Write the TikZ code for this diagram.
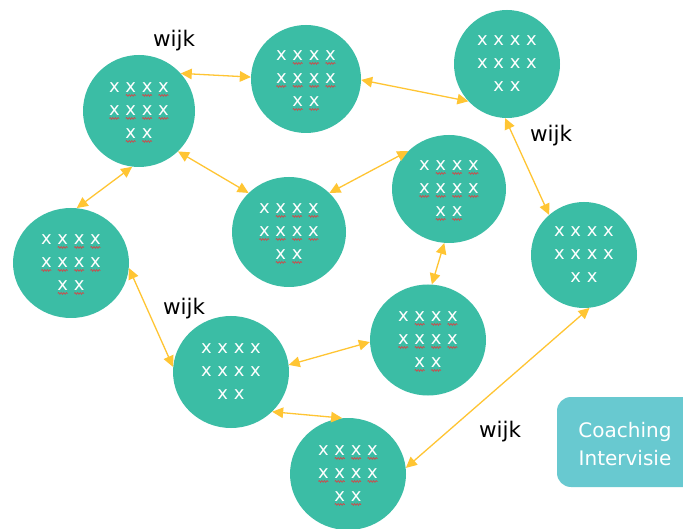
\documentclass[tikz,border=0pt]{standalone}
\usepackage{fontspec}
\setmainfont{DejaVu Sans}
\usetikzlibrary{arrows.meta,shapes.geometric,decorations.pathmorphing}
\definecolor{blob}{RGB}{59,189,165}
\definecolor{coach}{RGB}{104,201,208}
\definecolor{linkc}{RGB}{255,197,51}
\definecolor{squigred}{RGB}{205,75,75}
\begin{document}
\begin{tikzpicture}[x=1pt,y=-1pt,
  blobnode/.style={ellipse, fill=blob, draw=none, inner sep=0pt},
  xtext/.style={text=white, align=center, inner sep=0pt, font=\fontsize{18}{23}\selectfont},
  wijklabel/.style={text=black, inner sep=0pt, anchor=base, font=\fontsize{21.5}{25}\selectfont},
  coachtext/.style={text=white, inner sep=0pt, anchor=base, font=\fontsize{20}{24}\selectfont},
  linkarrow/.style={draw=linkc, line width=1.3pt, {Triangle[length=11pt,width=10.5pt]}-{Triangle[length=11pt,width=10.5pt]}},
  squig/.style={draw=squigred, line width=0.7pt, decorate, decoration={snake, amplitude=0.9pt, segment length=2.6pt}},
  sq/.pic={
    \foreach \dx/\dy in {-8.2/-15.6, 8.2/-15.6, 24.6/-15.6, -24.6/7.4, -8.2/7.4, 8.2/7.4, 24.6/7.4, -8.2/30.4, 8.2/30.4}
      \draw[squig] (\dx-5,\dy) -- (\dx+5,\dy);
  }]
\useasboundingbox (0,0) rectangle (683,529);
\fill[white] (0,0) rectangle (683,529);

% coaching box
\begin{scope}
  \clip (0,0) rectangle (683,529);
  \fill[coach, rounded corners=14pt] (557,397) rectangle (715,487);
\end{scope}
\node[coachtext] (co1) at (625,437) {Coaching};
\node[coachtext] (co2) at (625,465) {Intervisie};

% circles
\node[blobnode, minimum width=112pt, minimum height=112pt] (c1) at (139,111) {};
\node[blobnode, minimum width=110pt, minimum height=108pt] (c2) at (306,79) {};
\node[blobnode, minimum width=106pt, minimum height=108pt] (c3) at (507,64) {};
\node[blobnode, minimum width=116pt, minimum height=110pt] (c4) at (71,263) {};
\node[blobnode, minimum width=114pt, minimum height=110pt] (c5) at (289,232) {};
\node[blobnode, minimum width=114pt, minimum height=108pt] (c6) at (449,189) {};
\node[blobnode, minimum width=106pt, minimum height=106pt] (c7) at (584,255) {};
\node[blobnode, minimum width=116pt, minimum height=112pt] (c8) at (231,372) {};
\node[blobnode, minimum width=116pt, minimum height=111pt] (c9) at (428,340) {};
\node[blobnode, minimum width=116pt, minimum height=112pt] (c10) at (348,474) {};

% texts
\foreach \c in {1,...,10}
  \node[xtext] (t\c) at (c\c) {x x x x\\x x x x\\x x};

% spell-check squiggles
\foreach \c in {1,2,4,5,6,9,10}
  \pic at (c\c) {sq};

% connectors
\draw[linkarrow] (c1.42) -- (c2.178);
\draw[linkarrow] (c1.-46) -- (c5.136);
\draw[linkarrow] (c1.-97) -- (c4.84);
\draw[linkarrow] (c2.-1) -- (c3.-136);
\draw[linkarrow] (c3.-92) -- (c7.131);
\draw[linkarrow] (c5.44) -- (c6.137);
\draw[linkarrow] (c6.-95) -- (c9.86);
\draw[linkarrow] (c4.-5) -- (c8.175);
\draw[linkarrow] (c8.7) -- (c9.-178);
\draw[linkarrow] (c8.-44) -- (c10.96);
\draw[linkarrow] (c7.-84) -- (c10.6);

% labels
\node[wijklabel] (w1) at (174,47) {wijk};
\node[wijklabel] (w2) at (551,142) {wijk};
\node[wijklabel] (w3) at (184,315) {wijk};
\node[wijklabel] (w4) at (500,437) {wijk};
\end{tikzpicture}
\end{document}
